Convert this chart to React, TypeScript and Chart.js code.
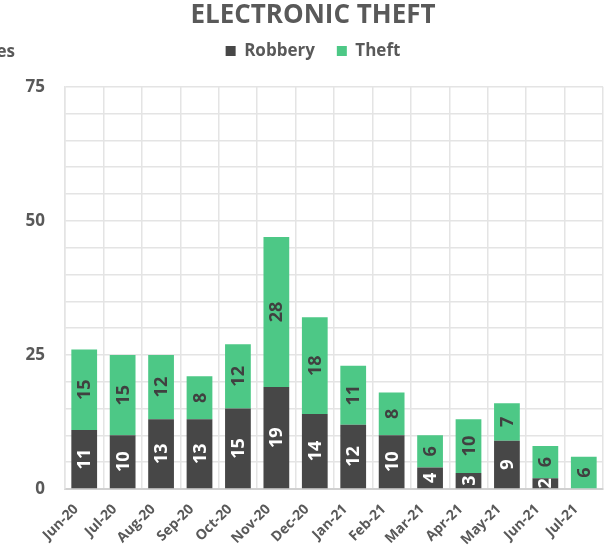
import React, { useEffect, useRef } from "react";
import { Chart, registerables } from "chart.js";

Chart.register(...registerables);

const months = ["Jun-20", "Jul-20", "Aug-20", "Sep-20", "Oct-20", "Nov-20", "Dec-20", "Jan-21", "Feb-21", "Mar-21", "Apr-21", "May-21", "Jun-21", "Jul-21"];
const robbery = [11, 10, 13, 13, 15, 19, 14, 12, 10, 4, 3, 9, 2, 0];
const theft = [15, 15, 12, 8, 12, 28, 18, 11, 8, 6, 10, 7, 6, 6];
const labeledTicks = [0, 25, 50, 75];

const FONT = "'Open Sans', Lato, sans-serif";
const TEXT = "#595959";

const barLabels = {
  id: "barLabels",
  afterDatasetsDraw(chart: any) {
    const ctx = chart.ctx;
    chart.data.datasets.forEach((ds: any, di: number) => {
      const meta = chart.getDatasetMeta(di);
      meta.data.forEach((el: any, i: number) => {
        const v = ds.data[i];
        if (!v) return;
        const props = el.getProps(["x", "y", "base"], true);
        const cy = (props.y + props.base) / 2;
        ctx.save();
        ctx.translate(props.x, cy);
        ctx.rotate(-Math.PI / 2);
        ctx.font = `bold 18px ${FONT}`;
        ctx.fillStyle = di === 0 ? "#ffffff" : "#404040";
        ctx.textAlign = "center";
        ctx.textBaseline = "middle";
        ctx.fillText(String(v), 0, 1);
        ctx.restore();
      });
    });
  },
};

const axisTitle = {
  id: "axisTitle",
  afterDraw(chart: any) {
    const ctx = chart.ctx;
    ctx.save();
    ctx.font = `bold 17px ${FONT}`;
    ctx.fillStyle = TEXT;
    ctx.textAlign = "right";
    ctx.textBaseline = "middle";
    ctx.fillText("Number of Offences", 15, 52);
    ctx.restore();
  },
};

export default function App() {
  const ref = useRef<HTMLCanvasElement>(null);
  useEffect(() => {
    if (!ref.current) return;
    const chart = new Chart(ref.current, {
      type: "bar",
      data: {
        labels: months,
        datasets: [
          { label: "Robbery", data: robbery, backgroundColor: "#474747", borderWidth: 0 },
          { label: "Theft", data: theft, backgroundColor: "#4dc886", borderWidth: 0 },
        ],
      },
      options: {
        responsive: false,
        animation: false,
        devicePixelRatio: 1,
        layout: { padding: { top: 0, right: 7, left: 23, bottom: 0 } },
        datasets: { bar: { categoryPercentage: 1, barPercentage: 0.67 } },
        plugins: {
          title: {
            display: true,
            text: "ELECTRONIC THEFT",
            color: TEXT,
            font: { family: FONT, size: 26, weight: "bold", lineHeight: 1.2 },
            padding: { top: 0, bottom: -10.7 },
          },
          subtitle: {
            display: true,
            text: "",
            weight: 500,
            font: { size: 10, lineHeight: 1 },
            padding: { top: 0, bottom: 7.2 },
          },
          legend: {
            display: true,
            labels: {
              color: TEXT,
              font: { family: FONT, size: 17, weight: "bold" },
              boxWidth: 10,
              boxHeight: 10,
              padding: 22,
            },
          },
          tooltip: { enabled: false },
        },
        scales: {
          x: {
            stacked: true,
            grid: { color: "#e4e4e4", lineWidth: 1.5, drawTicks: false, offset: true },
            border: { color: "#d0d0d0", width: 2 },
            ticks: {
              color: TEXT,
              font: { family: FONT, size: 14, weight: "bold" },
              minRotation: 45,
              maxRotation: 45,
              padding: 12,
              labelOffset: -8,
              autoSkip: false,
            },
            afterFit(scale: any) {
              scale.height = 60;
            },
          },
          y: {
            stacked: true,
            min: 0,
            max: 75,
            grid: { color: "#e4e4e4", lineWidth: 1.5, drawTicks: false },
            border: { color: "#e4e4e4", width: 1.5 },
            ticks: {
              stepSize: 5,
              color: TEXT,
              font: { family: FONT, size: 17, weight: "bold" },
              padding: 20,
              callback: (v: any) => (labeledTicks.includes(Number(v)) ? String(v) : ""),
            },
            afterFit(scale: any) {
              scale.width = 42;
            },
          },
        },
      },
      plugins: [barLabels, axisTitle],
    });
    return () => chart.destroy();
  }, []);
  return (
    <div style={{ position: "absolute", left: 0, top: 0, width: 610, height: 549 }}>
      <canvas ref={ref} width={610} height={549} />
    </div>
  );
}
